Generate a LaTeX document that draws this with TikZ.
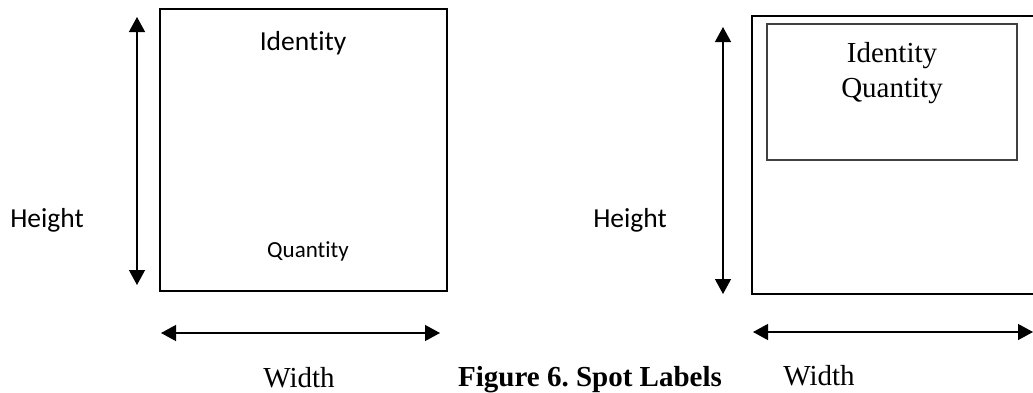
\documentclass[tikz,border=0pt]{standalone}
\usepackage{fontspec}
\setmainfont{Liberation Serif}
\newfontfamily\calib[Ligatures={NoCommon,NoRequired,NoContextual}]{Carlito}
\usetikzlibrary{arrows.meta}
\frenchspacing
\tikzset{
  frame/.style={draw=black, line width=2pt},
  innerframe/.style={draw=black!75, line width=1.1pt},
  dimarrow/.style={line width=1.3pt, {Triangle[length=15pt,width=16pt]}-{Triangle[length=15pt,width=16pt]}},
  sanslbl/.style={font=\calib\fontsize{27.5}{32}\selectfont, anchor=base, inner sep=0pt},
  sanssmall/.style={font=\calib\fontsize{23}{28}\selectfont, anchor=base, inner sep=0pt},
  seriflbl/.style={font=\fontsize{29}{35}\selectfont, anchor=base, inner sep=0pt},
  captionlbl/.style={font=\bfseries\fontsize{29}{35}\selectfont, anchor=base, inner sep=0pt}
}
\begin{document}
\begin{tikzpicture}[x=1pt,y=-1pt]
\useasboundingbox (0,0) rectangle (1033,392);
\clip (0,0) rectangle (1033,392);
% left diagram
\draw[frame] (160,9) rectangle (447,291);
\node[sanslbl] (lid) at (303,50) {Identity};
\node[sanssmall] (lqt) at (308,257) {Quantity};
\node[sanslbl] (lh) at (47,227) {Height};
\coordinate (lvt) at (137,17);
\coordinate (lvb) at (137,285);
\draw[dimarrow] (lvt) -- (lvb);
\coordinate (lhl) at (161,333);
\coordinate (lhr) at (440,333);
\draw[dimarrow] (lhl) -- (lhr);
\node[seriflbl] (lw) at (299,387) {Width};
% caption
\node[captionlbl] (cap) at (590,386) {Figure 6. Spot Labels};
% right diagram
\draw[frame] (752,16) rectangle (1045,294);
\draw[innerframe] (767,24) rectangle (1017,160);
\node[seriflbl] (rid) at (892,62) {Identity};
\node[seriflbl] (rqt) at (892,97) {Quantity};
\node[sanslbl] (rh) at (630,227) {Height};
\coordinate (rvt) at (723,27);
\coordinate (rvb) at (723,294);
\draw[dimarrow] (rvt) -- (rvb);
\coordinate (rhl) at (753,332);
\coordinate (rhr) at (1033,332);
\draw[dimarrow] (rhl) -- (rhr);
\node[seriflbl] (rw) at (819,385) {Width};
\end{tikzpicture}
\end{document}
